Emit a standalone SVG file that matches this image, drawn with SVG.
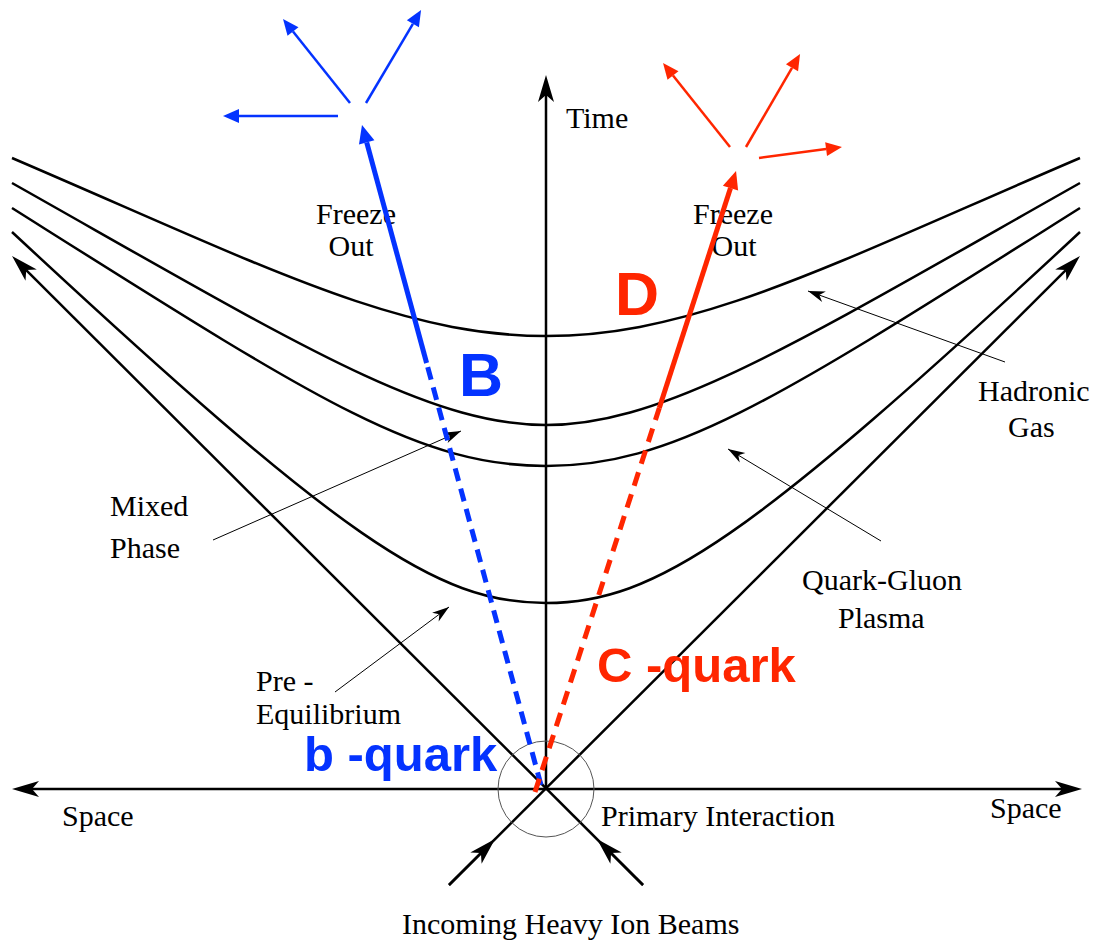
<svg xmlns="http://www.w3.org/2000/svg" width="1093" height="943" viewBox="0 0 1093 943">
<style>
.ax{stroke:#000;stroke-width:2.5;fill:none}
.cv{stroke:#000;stroke-width:2.5;fill:none}
.pt{stroke:#000;stroke-width:1;fill:none}
.lb{font-family:"Liberation Serif","Times New Roman",serif;font-size:30px;fill:#000}
.bl{stroke:#0433ff;fill:none}
.rd{stroke:#ff2600;fill:none}
.big{font-family:"Liberation Sans",Arial,sans-serif;font-weight:bold}
</style>
<defs>
<marker id="ak" markerUnits="userSpaceOnUse" orient="auto" viewBox="-30 -15 60 30" markerWidth="60" markerHeight="30" refX="0" refY="0" overflow="visible"><path d="M20,0 L-7,-8 L0,0 L-7,8 Z" fill="#000"/></marker>
<marker id="ap" markerUnits="userSpaceOnUse" orient="auto" viewBox="-30 -15 60 30" markerWidth="60" markerHeight="30" refX="0" refY="0" overflow="visible"><path d="M0,0 L-17,-5.5 L-12,0 L-17,5.5 Z" fill="#000"/></marker>
<marker id="ab" markerUnits="userSpaceOnUse" orient="auto" viewBox="-30 -15 60 30" markerWidth="60" markerHeight="30" refX="0" refY="0" overflow="visible"><path d="M18,0 L0,-8 L0,8 Z" fill="#0433ff"/></marker>
<marker id="abs" markerUnits="userSpaceOnUse" orient="auto" viewBox="-30 -15 60 30" markerWidth="60" markerHeight="30" refX="0" refY="0" overflow="visible"><path d="M16,0 L0,-7 L0,7 Z" fill="#0433ff"/></marker>
<marker id="ar" markerUnits="userSpaceOnUse" orient="auto" viewBox="-30 -15 60 30" markerWidth="60" markerHeight="30" refX="0" refY="0" overflow="visible"><path d="M18,0 L0,-8 L0,8 Z" fill="#ff2600"/></marker>
<marker id="ars" markerUnits="userSpaceOnUse" orient="auto" viewBox="-30 -15 60 30" markerWidth="60" markerHeight="30" refX="0" refY="0" overflow="visible"><path d="M16,0 L0,-7 L0,7 Z" fill="#ff2600"/></marker>
</defs>
<rect width="1093" height="943" fill="#fff"/>

<g id="axes">
<line class="ax" x1="546" y1="789" x2="32" y2="789" marker-end="url(#ak)"/>
<line class="ax" x1="546" y1="789" x2="1062" y2="789" marker-end="url(#ak)"/>
<line class="ax" x1="546" y1="789" x2="546" y2="95" marker-end="url(#ak)"/>
<line class="ax" x1="449" y1="885" x2="1065.8" y2="270.1" marker-end="url(#ak)"/>
<line class="ax" x1="643" y1="885" x2="26.2" y2="270.1" marker-end="url(#ak)"/>
<line class="ax" x1="449" y1="885" x2="480.9" y2="853.1" marker-end="url(#ak)"/>
<line class="ax" x1="643" y1="885" x2="611.1" y2="853.1" marker-end="url(#ak)"/>
<circle cx="546" cy="789" r="48" fill="none" stroke="#555" stroke-width="1"/>
</g>

<g id="hypersurfaces">
<path class="cv" d="M12,158 C262,265 396,336 546,336 C696,336 830,265 1080,158"/>
<path class="cv" d="M12,183 C292,341 426,425 546,425 C666,425 800,341 1080,183"/>
<path class="cv" d="M12,208 C312,397 416,466 546,466 C676,466 780,397 1080,208"/>
<path class="cv" d="M12,232 C342,539 436,603 546,603 C656,603 750,539 1080,232"/>
</g>

<g id="pointers">
<line class="pt" x1="213" y1="540" x2="461" y2="431" marker-end="url(#ap)"/>
<line class="pt" x1="335" y1="692" x2="449" y2="607" marker-end="url(#ap)"/>
<line class="pt" x1="881" y1="541" x2="728" y2="449" marker-end="url(#ap)"/>
<line class="pt" x1="1005" y1="362" x2="808" y2="291" marker-end="url(#ap)"/>
</g>

<g id="labels">
<text class="lb" x="566" y="128">Time</text>
<text class="lb" x="356" y="224" text-anchor="middle">Freeze</text>
<text class="lb" x="351" y="256" text-anchor="middle">Out</text>
<text class="lb" x="733" y="224" text-anchor="middle">Freeze</text>
<text class="lb" x="734" y="256" text-anchor="middle">Out</text>
<text class="lb" x="978" y="401">Hadronic</text>
<text class="lb" x="1008" y="437">Gas</text>
<text class="lb" x="110" y="516">Mixed</text>
<text class="lb" x="110" y="558">Phase</text>
<text class="lb" x="802" y="590">Quark-Gluon</text>
<text class="lb" x="838" y="628">Plasma</text>
<text class="lb" x="256" y="691">Pre -</text>
<text class="lb" x="256" y="724">Equilibrium</text>
<text class="lb" x="62" y="826">Space</text>
<text class="lb" x="990" y="818">Space</text>
<text class="lb" x="601" y="826">Primary Interaction</text>
<text class="lb" x="402" y="934">Incoming Heavy Ion Beams</text>
</g>

<g id="b-quark">
<line class="bl" x1="541" y1="785" x2="426.6" y2="363" stroke-width="5" stroke-dasharray="13 8"/>
<line class="bl" x1="426.6" y1="363" x2="366.7" y2="142.4" stroke-width="5" marker-end="url(#ab)"/>
<line class="bl" x1="338" y1="116" x2="239" y2="116" stroke-width="2.5" marker-end="url(#abs)"/>
<line class="bl" x1="350" y1="103" x2="293" y2="31.5" stroke-width="2.5" marker-end="url(#abs)"/>
<line class="bl" x1="366" y1="103" x2="412.9" y2="23.8" stroke-width="2.5" marker-end="url(#abs)"/>
<text class="big" x="459" y="396" font-size="61" fill="#0433ff">B</text>
<text class="big" x="304" y="771" font-size="49" fill="#0433ff">b -quark</text>
</g>

<g id="c-quark">
<line class="rd" x1="535" y1="792" x2="659.3" y2="408" stroke-width="5" stroke-dasharray="14 9"/>
<line class="rd" x1="659.3" y1="408" x2="730.5" y2="188.1" stroke-width="5" marker-end="url(#ar)"/>
<line class="rd" x1="730" y1="147" x2="673" y2="75.5" stroke-width="2.5" marker-end="url(#ars)"/>
<line class="rd" x1="746" y1="147" x2="792" y2="67.8" stroke-width="2.5" marker-end="url(#ars)"/>
<line class="rd" x1="759" y1="158" x2="826.1" y2="149.1" stroke-width="2.5" marker-end="url(#ars)"/>
<text class="big" x="615" y="315" font-size="61" fill="#ff2600">D</text>
<text class="big" x="597" y="682" font-size="49" fill="#ff2600">C -quark</text>
</g>
</svg>
